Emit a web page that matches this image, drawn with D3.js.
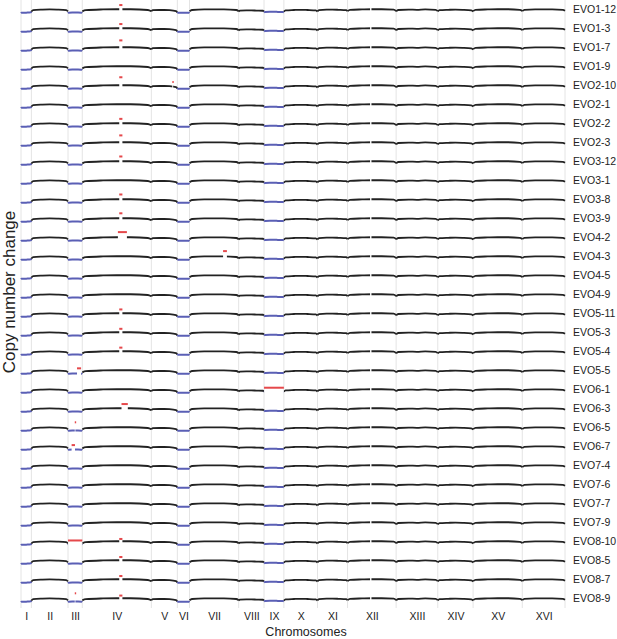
<!DOCTYPE html>
<html>
<head>
<meta charset="utf-8">
<script src="https://cdn.jsdelivr.net/npm/d3@7"></script>
<style>
  body { margin: 0; background: #fff; }
  text { font-family: "Liberation Sans", Arial, sans-serif; fill: #222; }
</style>
</head>
<body>
<div id="chart"></div>
<script>
// Chromosomes and their lengths (kb)
var chromNames = ["I", "II", "III", "IV", "V", "VI", "VII", "VIII", "IX", "X", "XI", "XII", "XIII", "XIV", "XV", "XVI"];
var chromLengthsKb = [230, 813, 317, 1532, 577, 270, 1091, 563, 440, 746, 667, 1078, 924, 784, 1091, 948];

// Shared copy number profile along each chromosome (log2 change), read at these fractions of its length
var profileFractions = [0, 0.05, 0.3, 0.5, 0.7, 0.95, 1];
var chromProfiles = [
    [-0.17, -0.15, -0.14, -0.14, -0.13, -0.12, -0.08],
    [-0.08, -0.01, 0.02, 0.03, 0.02, -0.01, -0.07],
    [-0.17, -0.14, -0.13, -0.13, -0.13, -0.14, -0.16],
    [-0.07, -0.01, 0.03, 0.04, 0.04, 0.0, -0.07],
    [-0.07, -0.01, 0.0, 0.0, -0.01, -0.06, -0.13],
    [-0.17, -0.15, -0.14, -0.14, -0.14, -0.15, -0.17],
    [-0.07, 0.0, 0.03, 0.03, 0.03, 0.0, -0.06],
    [-0.08, -0.03, -0.02, -0.02, -0.03, -0.04, -0.08],
    [-0.13, -0.1, -0.09, -0.09, -0.1, -0.11, -0.13],
    [-0.08, -0.02, 0.0, 0.01, 0.0, -0.02, -0.08],
    [-0.07, -0.01, 0.02, 0.02, 0.01, -0.01, -0.06],
    [-0.06, 0.01, 0.03, 0.04, 0.04, 0.02, -0.06],
    [-0.07, 0.0, 0.02, 0.01, 0.03, 0.01, -0.06],
    [-0.07, -0.01, 0.01, 0.02, 0.01, -0.02, -0.08],
    [-0.06, 0.01, 0.03, 0.04, 0.04, 0.01, -0.05],
    [-0.06, 0.01, 0.03, 0.03, 0.03, 0.01, -0.04]
];

// Evolved clones, top to bottom
var samples = ["EVO1-12", "EVO1-3", "EVO1-7", "EVO1-9", "EVO2-10", "EVO2-1", "EVO2-2", "EVO2-3",
    "EVO3-12", "EVO3-1", "EVO3-8", "EVO3-9", "EVO4-2", "EVO4-3", "EVO4-5", "EVO4-9",
    "EVO5-11", "EVO5-3", "EVO5-4", "EVO5-5", "EVO6-1", "EVO6-3", "EVO6-5", "EVO6-7",
    "EVO7-4", "EVO7-6", "EVO7-7", "EVO7-9", "EVO8-10", "EVO8-5", "EVO8-7", "EVO8-9"];

// Amplified regions: [sample, chromosome, start kb, end kb, log2 change]
var gains = [
    ["EVO1-12", "IV", 820, 890, 0.26],
    ["EVO1-3", "IV", 820, 890, 0.26],
    ["EVO1-7", "IV", 820, 890, 0.40],
    ["EVO2-10", "IV", 820, 890, 0.46],
    ["EVO2-10", "V", 466, 484, 0.21],
    ["EVO2-2", "IV", 820, 890, 0.27],
    ["EVO2-3", "IV", 820, 890, 0.40],
    ["EVO3-12", "IV", 820, 890, 0.29],
    ["EVO3-8", "IV", 820, 890, 0.29],
    ["EVO3-9", "IV", 820, 890, 0.30],
    ["EVO4-2", "IV", 790, 990, 0.31],
    ["EVO4-3", "VII", 745, 830, 0.31],
    ["EVO5-11", "IV", 820, 890, 0.24],
    ["EVO5-3", "IV", 820, 890, 0.22],
    ["EVO5-4", "IV", 820, 890, 0.23],
    ["EVO5-5", "III", 200, 290, 0.14],
    ["EVO6-1", "IX", 0, 440, 0.12],
    ["EVO6-3", "IV", 870, 1010, 0.26],
    ["EVO6-5", "III", 150, 164, 0.30],
    ["EVO6-7", "III", 80, 155, 0.10],
    ["EVO8-10", "III", 0, 317, 0.08],
    ["EVO8-10", "IV", 820, 890, 0.16],
    ["EVO8-5", "IV", 820, 890, 0.21],
    ["EVO8-7", "IV", 820, 890, 0.21],
    ["EVO8-9", "IV", 820, 890, 0.18],
    ["EVO8-9", "III", 150, 164, 0.30]
];

// Region without data in every clone (rDNA on XII)
var noDataRegion = ["XII", 500, 530];

var width = 617, height = 639;
var svg = d3.select("#chart").append("svg").attr("width", width).attr("height", height);
var defs = svg.append("defs");

var chromStart = Array.from(d3.cumsum([0].concat(chromLengthsKb)));
var totalKb = chromStart[chromStart.length - 1];
function chromIndex(name) { return chromNames.indexOf(name); }
function gx(chrom, kb) { return x(chromStart[chromIndex(chrom)] + kb); }

// Scales
var x = d3.scaleLinear().domain([0, totalKb]).range([21, 565]);
var rowScale = d3.scaleBand().domain(samples).range([0.5, 608.5]);
var bw = rowScale.bandwidth();
var yv = d3.scaleLinear().domain([-0.5, 0.5]).range([bw / 2, -bw / 2]);

var black = "#222222", blue = "#5a5fb5", red = "#e5484b";

// Chromosome boundaries
svg.append("g").selectAll("line")
    .data(chromStart)
    .enter().append("line")
    .attr("x1", function(d) { return x(d); })
    .attr("x2", function(d) { return x(d); })
    .attr("y1", 0)
    .attr("y2", 608)
    .attr("stroke", "#e4e4e4")
    .attr("stroke-width", 1);

var line = d3.line()
    .x(function(d) { return x(d[0]); })
    .y(function(d) { return yv(d[1]); })
    .curve(d3.curveMonotoneX);

samples.forEach(function(sample, i) {
    var rowGains = gains.filter(function(g) { return g[0] === sample; });
    var gaps = rowGains.concat([[sample].concat(noDataRegion)]);

    // Mask out the regions drawn as gains (and the no-data region)
    var mask = defs.append("mask")
        .attr("id", "row-mask-" + i)
        .attr("maskUnits", "userSpaceOnUse")
        .attr("x", 0).attr("y", -bw / 2)
        .attr("width", width).attr("height", bw);
    mask.append("rect")
        .attr("x", 0).attr("y", -bw / 2)
        .attr("width", width).attr("height", bw)
        .attr("fill", "#fff");
    mask.selectAll(".gap")
        .data(gaps)
        .enter().append("rect")
        .attr("class", "gap")
        .attr("x", function(d) { return gx(d[1], d[2]); })
        .attr("width", function(d) { return gx(d[1], d[3]) - gx(d[1], d[2]); })
        .attr("y", -bw / 2)
        .attr("height", bw)
        .attr("fill", "#000");

    var rowG = svg.append("g")
        .attr("transform", "translate(0," + (rowScale(sample) + bw / 2) + ")");

    rowG.append("g")
        .attr("mask", "url(#row-mask-" + i + ")")
        .selectAll("path")
        .data(chromLengthsKb)
        .enter().append("path")
        .attr("d", function(len, c) {
            return line(profileFractions.map(function(f, k) {
                return [chromStart[c] + f * len, chromProfiles[c][k]];
            }));
        })
        .attr("fill", "none")
        .attr("stroke", function(len, c) { return d3.mean(chromProfiles[c]) < -0.07 ? blue : black; })
        .attr("stroke-width", function(len, c) { return d3.mean(chromProfiles[c]) < -0.07 ? 2 : 1.8; });

    rowG.append("g").selectAll("rect")
        .data(rowGains)
        .enter().append("rect")
        .attr("x", function(d) { return gx(d[1], d[2]); })
        .attr("width", function(d) { return Math.max(1.4, gx(d[1], d[3]) - gx(d[1], d[2])); })
        .attr("y", function(d) { return yv(d[4]) - 1; })
        .attr("height", 2)
        .attr("fill", red);
});

// Chromosome labels
var mids = chromLengthsKb.map(function(len, c) { return chromStart[c] + len / 2; });
var xAxisG = svg.append("g")
    .attr("transform", "translate(0,612.5)")
    .call(d3.axisBottom(x).tickValues(mids).tickSize(0).tickPadding(0)
        .tickFormat(function(d, i) { return chromNames[i]; }));
xAxisG.select(".domain").remove();
xAxisG.selectAll("text").attr("font-size", "10.5px").attr("fill", "#222")
    .style("font-family", "'Liberation Sans', Arial, sans-serif");

// Clone labels
var rowAxisG = svg.append("g")
    .attr("transform", "translate(565,0)")
    .call(d3.axisRight(rowScale).tickSize(0).tickPadding(8));
rowAxisG.select(".domain").remove();
rowAxisG.selectAll("text").attr("font-size", "10.5px").attr("fill", "#222")
    .style("font-family", "'Liberation Sans', Arial, sans-serif");

// Axis titles
svg.append("text")
    .attr("transform", "translate(306,636)")
    .attr("text-anchor", "middle")
    .attr("font-size", "12.5px")
    .text("Chromosomes");

svg.append("text")
    .attr("transform", "translate(15,292) rotate(-90)")
    .attr("text-anchor", "middle")
    .attr("font-size", "17px")
    .text("Copy number change");
</script>
</body>
</html>
